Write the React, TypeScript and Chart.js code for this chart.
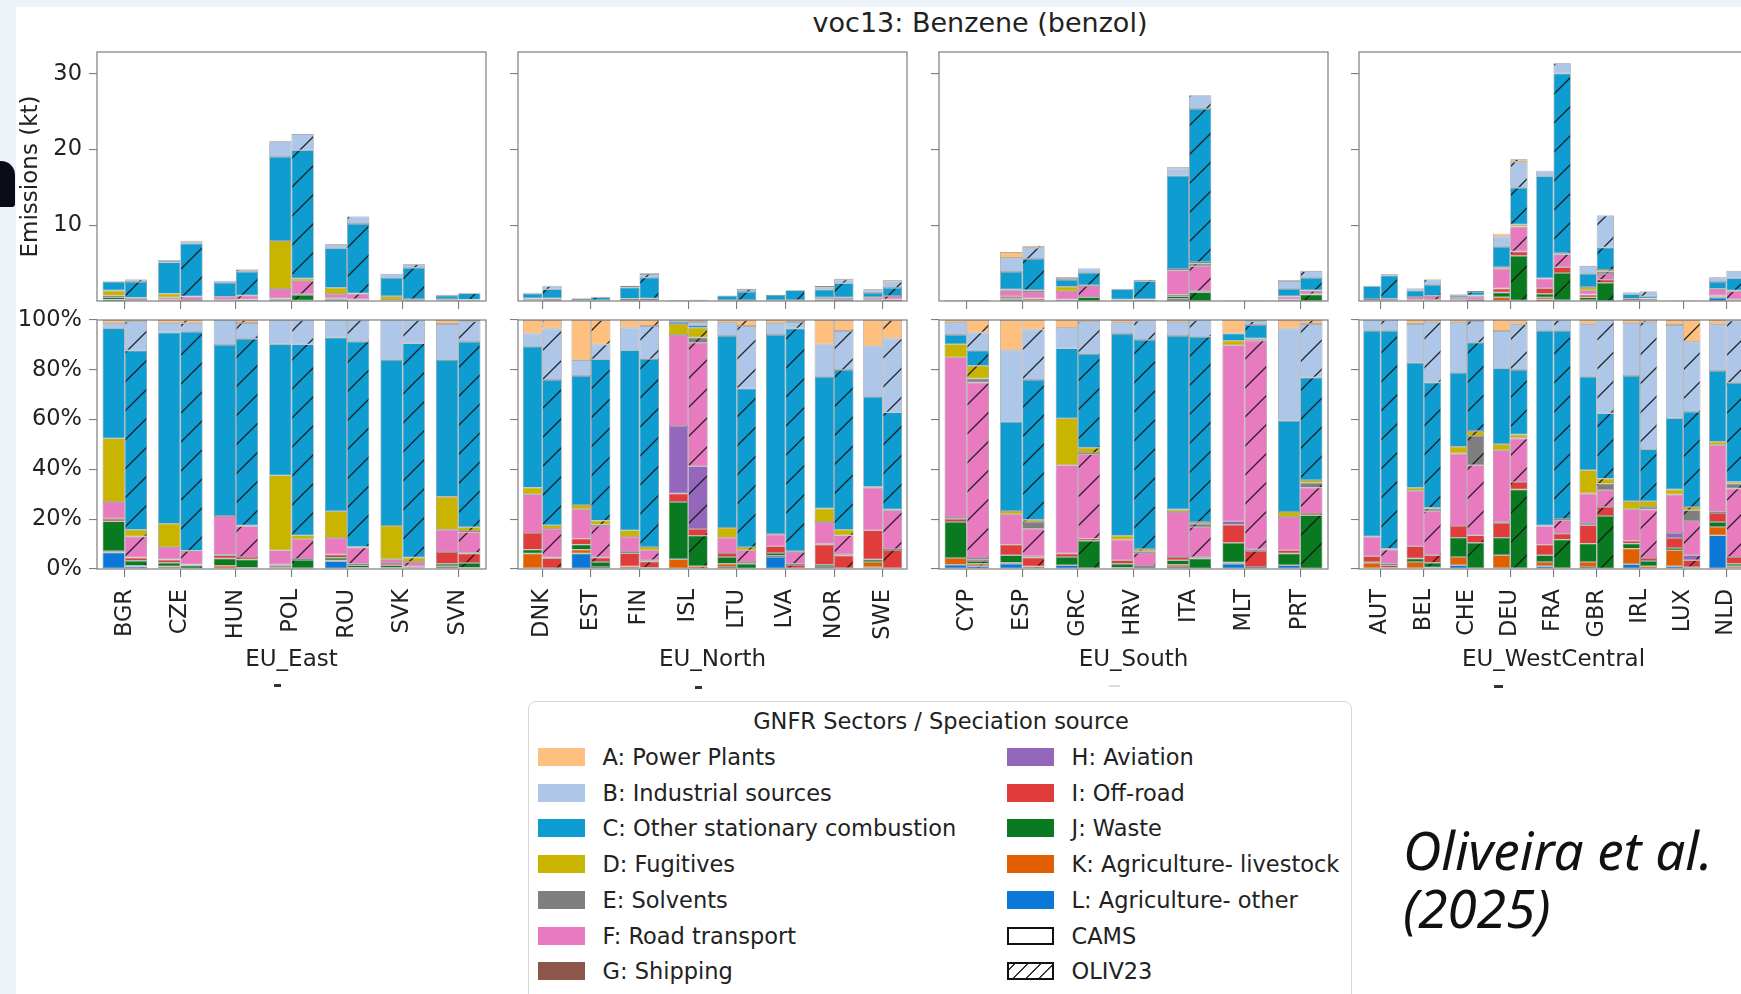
import React, { useEffect, useRef } from 'react';
import { Chart, registerables } from 'chart.js';

Chart.register(...registerables);

// ---------- sectors (order A..L) ----------
const SECTOR_LABELS = [
  'A: Power Plants', 'B: Industrial sources', 'C: Other stationary combustion', 'D: Fugitives',
  'E: Solvents', 'F: Road transport', 'G: Shipping', 'H: Aviation', 'I: Off-road', 'J: Waste',
  'K: Agriculture- livestock', 'L: Agriculture- other',
];
const SECTOR_COLORS = [
  '#ffbf7f', '#aec7e8', '#0f9dd1', '#c9b400', '#7f7f7f', '#e87bbf',
  '#8c564b', '#9467bd', '#e03c3c', '#0a7a21', '#e06000', '#0b78d8',
];

// ---------- shares (%) per country, order A..L ----------
// EU_East
const BGR_CAMS = [1.3, 2, 44.2, 25.5, 0, 6.5, 0, 0.3, 1, 12, 0.5, 6.6];
const BGR_OLIV = [0.7, 11.6, 72.4, 2.7, 0, 8.4, 0.2, 0, 1.2, 2, 0.3, 1];
const CZE_CAMS = [1.3, 3.7, 76.8, 9.4, 0, 4.9, 0.2, 0, 1.2, 1.5, 0.7, 0.3];
const CZE_OLIV = [1.3, 3.4, 88, 0.2, 0, 5.4, 0.1, 0, 0.3, 1.2, 0.2, 0];
const HUN_CAMS = [0, 10, 68.7, 0, 0, 15.6, 0.2, 0, 1.3, 2.9, 1.3, 0];
const HUN_OLIV = [1.2, 6.3, 75, 0.3, 0, 12.4, 0, 0, 1, 3.3, 0.2, 0.3];
const POL_CAMS = [0, 9.8, 52.8, 30.2, 0, 5.7, 0.3, 0, 0.7, 0.3, 0.5, 0];
const POL_OLIV = [0, 9.8, 76.7, 1.6, 0, 7.9, 0, 0, 0.4, 3.3, 0.2, 0.1];
const ROU_CAMS = [0, 7, 69.8, 10.7, 0, 6.7, 0, 0, 1.3, 1.1, 0.3, 3.1];
const ROU_OLIV = [0, 8.7, 82.4, 0.3, 0, 6.5, 0, 0, 0.6, 1, 0.2, 0.3];
const SVK_CAMS = [0, 16.1, 66.6, 13.4, 0, 1.5, 0, 0, 0.9, 1, 0.3, 0.2];
const SVK_OLIV = [0, 9.4, 86, 1.8, 0, 1.8, 0, 0, 0.3, 0.5, 0.2, 0];
const SVN_CAMS = [1.6, 14.5, 54.9, 13.2, 0, 9, 0, 0, 4.7, 1, 0.3, 0.8];
const SVN_OLIV = [0.5, 8.3, 74.4, 1.5, 0.5, 8.3, 0, 0.3, 3.8, 1.9, 0.2, 0.3];
// EU_North
const DNK_CAMS = [5.4, 5.3, 56.6, 2.7, 0, 15.5, 0, 0, 6.7, 1.6, 5.9, 0.3];
const DNK_OLIV = [3.4, 20.7, 58.3, 1.5, 0, 11.5, 0.3, 0, 4, 0, 0.3, 0];
const EST_CAMS = [16.1, 6.4, 51.8, 1.7, 0, 11.8, 0, 0, 2.4, 2, 1.6, 6.2];
const EST_OLIV = [9.8, 5.9, 64.7, 1.6, 0.6, 12.6, 0, 0, 1.8, 2, 0.5, 0.3];
const FIN_CAMS = [3, 9.1, 72.4, 2.6, 0, 6.1, 0.5, 0, 5.3, 0, 1, 0];
const FIN_OLIV = [2.4, 13.3, 75.5, 1.3, 0, 4, 0.5, 0, 2.5, 0, 0.5, 0];
const ISL_CAMS = [0.3, 0.4, 0.9, 4.4, 0, 36.6, 0, 27.1, 3.4, 23, 3.9, 0];
const ISL_OLIV = [0.8, 1.3, 1, 3.9, 2.1, 49.6, 0, 25.2, 2.7, 12.3, 1.1, 0];
const LTU_CAMS = [1.1, 5.3, 77.1, 3.9, 0, 6.2, 0, 0, 1.6, 2.7, 1.3, 0.8];
const LTU_OLIV = [2.4, 25.1, 63.7, 1.3, 0, 4.7, 0, 0, 0.7, 2.1, 0, 0];
const LVA_CAMS = [1.3, 4.7, 79.9, 0.3, 0, 4.7, 0, 0, 2.7, 1.1, 0.5, 4.8];
const LVA_OLIV = [0.8, 2.6, 89.5, 0.3, 0, 4.7, 0.5, 0, 1.3, 0, 0.3, 0];
const NOR_CAMS = [9.8, 13, 52.9, 5.4, 0, 8.8, 0, 0.3, 8.1, 0.9, 0.8, 0];
const NOR_OLIV = [4.4, 15.7, 64.1, 2.3, 0, 7.6, 0.5, 0, 5.1, 0, 0.3, 0];
const SWE_CAMS = [10.5, 20.3, 36.2, 0.3, 0, 17.2, 0, 0, 11.7, 1, 2.1, 0.7];
const SWE_OLIV = [7.4, 29.7, 39, 0.3, 0, 15.6, 0.4, 0, 7.3, 0, 0.3, 0];
// EU_South
const CYP_CAMS = [1.1, 4.9, 3.7, 5.3, 0, 64.1, 0, 0.7, 1.3, 14.5, 2.7, 1.7];
const CYP_OLIV = [5, 7.3, 6.1, 5.1, 1.6, 70.5, 0, 0.5, 0.7, 1.1, 1, 1.1];
const ESP_CAMS = [12.1, 28.8, 35.8, 1.3, 0, 12.2, 0, 0, 4.3, 3, 0.4, 2.1];
const ESP_OLIV = [3.8, 20.3, 56.1, 0.9, 2.7, 11.1, 0.5, 0, 3.6, 0, 0.7, 0.3];
const GRC_CAMS = [3.1, 8.3, 28.1, 18.8, 0, 35.5, 0, 0, 1.4, 3.3, 0, 1.5];
const GRC_OLIV = [0.7, 13, 37.6, 2.1, 0.5, 33.9, 0, 0, 0.9, 11, 0.3, 0];
const HRV_CAMS = [1.1, 4.5, 81, 1.6, 0, 8.3, 0, 0, 1.4, 1.6, 0.5, 0];
const HRV_OLIV = [0.3, 7.7, 83.8, 0.9, 0.7, 5.2, 0, 0, 0.4, 0.6, 0.2, 0];
const ITA_CAMS = [0.9, 5.5, 69.7, 1, 0, 18.1, 0, 0, 1.3, 1.8, 0.9, 0.8];
const ITA_OLIV = [0, 6.7, 74.4, 0.7, 1.3, 12.2, 0, 0, 0.5, 4.2, 0, 0];
const MLT_CAMS = [5.4, 0, 2.9, 1.8, 0, 70.7, 0, 1.4, 7.3, 7.9, 0.5, 2.1];
const MLT_OLIV = [0.5, 1.5, 5.4, 0.5, 0.4, 83.8, 0, 0.7, 6.4, 0.8, 0, 0];
const PRT_CAMS = [3.4, 37.1, 36.6, 2, 0, 13.4, 0, 0, 1.3, 4.7, 0, 1.5];
const PRT_OLIV = [1.6, 21.5, 41.2, 1.1, 1.9, 10.2, 0, 0, 0.9, 21.6, 0, 0];
// EU_WestCentral
const AUT_CAMS = [0, 4.3, 82.6, 0.2, 0, 7.8, 0, 0, 2.3, 0.3, 2.2, 0.3];
const AUT_OLIV = [0, 4.3, 87.6, 0.3, 0, 5.7, 0.6, 0, 1, 0, 0.5, 0];
const BEL_CAMS = [1.6, 15.6, 50.2, 1.2, 0, 22.3, 0, 0, 4.9, 1.4, 2.5, 0.3];
const BEL_OLIV = [0.9, 24.2, 50.3, 0.3, 1.1, 17.7, 0, 0, 3, 1.9, 0.3, 0.3];
const CHE_CAMS = [1.1, 20.1, 29.7, 2.7, 0, 29.1, 0, 0, 4.7, 7.8, 3.3, 1.5];
const CHE_OLIV = [0.4, 8.7, 35.5, 2, 11.7, 28.2, 0, 0, 3, 10.2, 0.3, 0];
const DEU_CAMS = [4.4, 15, 30.5, 2.4, 0, 28.9, 0, 0.3, 5.9, 7.1, 5.2, 0.3];
const DEU_OLIV = [1.7, 18.4, 25.9, 1.3, 0.3, 17.5, 0, 0, 3, 31.6, 0.3, 0];
const FRA_CAMS = [0, 4.3, 78.2, 0.3, 0, 7.4, 0, 0, 4.3, 2.7, 1.7, 1.1];
const FRA_OLIV = [0, 4.3, 75.6, 0.5, 0, 5.4, 0, 0, 2.4, 11.5, 0.3, 0];
const GBR_CAMS = [1.7, 21.1, 37.5, 9.4, 0, 11.8, 0, 0.9, 7.4, 7.4, 2, 0.8];
const GBR_OLIV = [0.3, 37.2, 26.2, 2, 2.7, 6.7, 0, 0, 3.6, 21.3, 0, 0];
const IRL_CAMS = [1.3, 21.2, 50.3, 3.2, 0, 12.7, 0, 0, 1.1, 2, 6.3, 1.9];
const IRL_OLIV = [0.9, 51, 20.9, 2.3, 1, 19.5, 0, 0, 1.2, 2.1, 1.1, 0];
const LUX_CAMS = [2, 37.5, 28.6, 2, 0, 15.4, 0, 2, 4.1, 0.9, 6.4, 1.1];
const LUX_OLIV = [8.7, 28.2, 38.2, 1.3, 4.3, 13.8, 0, 2, 2.7, 0.3, 0.5, 0];
const NLD_CAMS = [1.7, 18.8, 28.4, 1.4, 0, 26.7, 0, 0.5, 3.6, 2, 3.4, 13.5];
const NLD_OLIV = [0.2, 25, 39.8, 0.7, 2, 27.5, 0, 0, 2.7, 1, 0.8, 0.3];

// ---------- countries and totals (kt) ----------
const EAST_COUNTRIES = ['BGR', 'CZE', 'HUN', 'POL', 'ROU', 'SVK', 'SVN'];
const EAST_CAMS_TOTAL = [2.64, 5.37, 2.69, 21.1, 7.49, 3.61, 0.84];
const EAST_OLIV_TOTAL = [2.86, 7.97, 4.18, 22.07, 11.15, 4.85, 1.1];
const NORTH_COUNTRIES = ['DNK', 'EST', 'FIN', 'ISL', 'LTU', 'LVA', 'NOR', 'SWE'];
const NORTH_CAMS_TOTAL = [1.1, 0.4, 2.03, 0.13, 0.75, 0.84, 1.98, 1.54];
const NORTH_OLIV_TOTAL = [2.03, 0.57, 3.66, 0.15, 1.63, 1.45, 2.95, 2.73];
const SOUTH_COUNTRIES = ['CYP', 'ESP', 'GRC', 'HRV', 'ITA', 'MLT', 'PRT'];
const SOUTH_CAMS_TOTAL = [0.13, 6.48, 3.13, 1.63, 17.67, 0.05, 2.73];
const SOUTH_OLIV_TOTAL = [0.13, 7.31, 4.32, 2.82, 27.2, 0.05, 4.0];
const WC_COUNTRIES = ['AUT', 'BEL', 'CHE', 'DEU', 'FRA', 'GBR', 'IRL', 'LUX', 'NLD'];
const WC_CAMS_TOTAL = [2.03, 1.67, 0.88, 8.9, 17.22, 4.67, 1.15, 0.07, 3.17];
const WC_OLIV_TOTAL = [3.52, 2.86, 1.32, 18.72, 31.4, 11.32, 1.28, 0.07, 4.0];

const ABS_TICKS = [10, 20, 30];
const ABS_MAX = 32.9;

const REGIONS = [
  { name: 'EU_East', countries: EAST_COUNTRIES, camsTotal: EAST_CAMS_TOTAL, olivTotal: EAST_OLIV_TOTAL,
    cams: [BGR_CAMS, CZE_CAMS, HUN_CAMS, POL_CAMS, ROU_CAMS, SVK_CAMS, SVN_CAMS],
    oliv: [BGR_OLIV, CZE_OLIV, HUN_OLIV, POL_OLIV, ROU_OLIV, SVK_OLIV, SVN_OLIV] },
  { name: 'EU_North', countries: NORTH_COUNTRIES, camsTotal: NORTH_CAMS_TOTAL, olivTotal: NORTH_OLIV_TOTAL,
    cams: [DNK_CAMS, EST_CAMS, FIN_CAMS, ISL_CAMS, LTU_CAMS, LVA_CAMS, NOR_CAMS, SWE_CAMS],
    oliv: [DNK_OLIV, EST_OLIV, FIN_OLIV, ISL_OLIV, LTU_OLIV, LVA_OLIV, NOR_OLIV, SWE_OLIV] },
  { name: 'EU_South', countries: SOUTH_COUNTRIES, camsTotal: SOUTH_CAMS_TOTAL, olivTotal: SOUTH_OLIV_TOTAL,
    cams: [CYP_CAMS, ESP_CAMS, GRC_CAMS, HRV_CAMS, ITA_CAMS, MLT_CAMS, PRT_CAMS],
    oliv: [CYP_OLIV, ESP_OLIV, GRC_OLIV, HRV_OLIV, ITA_OLIV, MLT_OLIV, PRT_OLIV] },
  { name: 'EU_WestCentral', countries: WC_COUNTRIES, camsTotal: WC_CAMS_TOTAL, olivTotal: WC_OLIV_TOTAL,
    cams: [AUT_CAMS, BEL_CAMS, CHE_CAMS, DEU_CAMS, FRA_CAMS, GBR_CAMS, IRL_CAMS, LUX_CAMS, NLD_CAMS],
    oliv: [AUT_OLIV, BEL_OLIV, CHE_OLIV, DEU_OLIV, FRA_OLIV, GBR_OLIV, IRL_OLIV, LUX_OLIV, NLD_OLIV] },
];

// ---------- layout ----------
const FONT = "'DejaVu Sans', sans-serif";
const TEXT = '#222222';
const SPINE = '#7d7d7d';
const PANEL_LEFTS = [97, 518, 939, 1359];
const PLOT_W = 389;
const PLOT_H = 249;
const ABS_TOP = 52;
const PCT_TOP = 320;
const TICK_FONT = 22.5;

Chart.defaults.font.family = FONT;
Chart.defaults.color = TEXT;

function makeHatch(ctx: CanvasRenderingContext2D, color: string) {
  const S = 29;
  const c = document.createElement('canvas');
  c.width = S;
  c.height = S;
  const g = c.getContext('2d')!;
  g.fillStyle = color;
  g.fillRect(0, 0, S, S);
  g.strokeStyle = 'rgba(20,20,20,0.9)';
  g.lineWidth = 1.3;
  g.beginPath();
  for (const o of [-S, 0, S]) {
    g.moveTo(o - 1, S + 1);
    g.lineTo(o + S + 1, -1);
  }
  g.stroke();
  return ctx.createPattern(c, 'repeat')!;
}

const framePlugin = {
  id: 'frame',
  afterDraw(chart: any) {
    const { ctx, chartArea: a } = chart;
    ctx.save();
    ctx.strokeStyle = SPINE;
    ctx.lineWidth = 1.2;
    ctx.strokeRect(a.left, a.top, a.right - a.left, a.bottom - a.top);
    ctx.restore();
  },
};

type Row = 'abs' | 'pct';

function Panel({ idx, row }: { idx: number; row: Row }) {
  const ref = useRef<HTMLCanvasElement>(null);
  const region = REGIONS[idx];
  const first = idx === 0;
  const yAxisW = first ? 93 : 12;
  const padTop = row === 'abs' ? 12 : 20;
  const xAxisH = row === 'abs' ? 14 : 121;
  const padRight = 6;
  const canvasLeft = PANEL_LEFTS[idx] - yAxisW;
  const canvasTop = (row === 'abs' ? ABS_TOP : PCT_TOP) - padTop;
  const w = yAxisW + PLOT_W + padRight;
  const h = padTop + PLOT_H + xAxisH;

  useEffect(() => {
    const canvas = ref.current!;
    const ctx = canvas.getContext('2d')!;
    const datasets: any[] = [];
    const sources: [string, number[][], number[]][] = [
      ['CAMS', region.cams, region.camsTotal],
      ['OLIV23', region.oliv, region.olivTotal],
    ];
    for (const [src, shares, totals] of sources) {
      for (let k = 11; k >= 0; k--) {
        const data = shares.map((arr, ci) => {
          if (!arr[k]) return null;
          const sum = arr.reduce((a, b) => a + b, 0);
          const frac = arr[k] / sum;
          return row === 'abs' ? frac * totals[ci] : frac * 100;
        });
        datasets.push({
          label: `${SECTOR_LABELS[k]} (${src})`,
          stack: src,
          data,
          backgroundColor: src === 'CAMS' ? SECTOR_COLORS[k] : makeHatch(ctx, SECTOR_COLORS[k]),
          borderColor: 'rgba(45,45,45,0.55)',
          borderWidth: 0.7,
          borderSkipped: false,
          categoryPercentage: 0.8,
          barPercentage: 1.0,
        });
      }
    }

    const chart = new Chart(canvas, {
      type: 'bar',
      data: { labels: region.countries, datasets },
      plugins: [framePlugin],
      options: {
        responsive: false,
        animation: false,
        devicePixelRatio: 1,
        events: [],
        layout: { padding: { top: padTop, right: padRight, left: 0, bottom: 0 } },
        plugins: { legend: { display: false }, tooltip: { enabled: false }, title: { display: false } },
        scales: {
          x: {
            stacked: true,
            offset: true,
            border: { display: false },
            grid: { display: true, offset: false, drawOnChartArea: false, drawTicks: true, tickLength: 8, color: SPINE, lineWidth: 1.1 },
            ticks: {
              display: row === 'pct',
              autoSkip: false,
              minRotation: 90,
              maxRotation: 90,
              padding: 12,
              color: TEXT,
              font: { size: TICK_FONT, family: FONT },
            },
            title: {
              display: row === 'pct',
              text: region.name,
              color: TEXT,
              font: { size: 23, family: FONT },
              padding: { top: 0, bottom: 16 },
            },
            afterFit: (s: any) => {
              s.height = xAxisH;
              s.paddingLeft = 0;
              s.paddingRight = 0;
            },
          },
          y: {
            stacked: true,
            min: 0,
            max: row === 'abs' ? ABS_MAX : 100,
            border: { display: false },
            grid: { display: true, drawOnChartArea: false, drawTicks: true, tickLength: 8, color: SPINE, lineWidth: 1.1 },
            ticks: {
              display: first,
              stepSize: 20,
              padding: 7,
              color: TEXT,
              font: { size: TICK_FONT, family: FONT },
              callback: (v: any) => (row === 'pct' ? `${v}%` : `${v}`),
            },
            afterBuildTicks: (s: any) => {
              if (row === 'abs') s.ticks = ABS_TICKS.map((v) => ({ value: v }));
            },
            title: {
              display: first && row === 'abs',
              text: 'Emissions (kt)',
              color: TEXT,
              font: { size: 23, family: FONT },
              padding: { top: 13, bottom: 0 },
            },
            afterFit: (s: any) => {
              s.width = yAxisW;
              s.paddingTop = 0;
              s.paddingBottom = 0;
            },
          },
        },
      } as any,
    });
    return () => chart.destroy();
  }, []);

  return (
    <canvas
      ref={ref}
      width={w}
      height={h}
      style={{ position: 'absolute', left: canvasLeft, top: canvasTop, width: w, height: h }}
    />
  );
}

const LEGEND_LEFT = 528;
const LEGEND_TOP = 701;
const ROW_Y0 = 55;
const ROW_DY = 35.7;

function Swatch({ color, kind }: { color?: string; kind?: 'cams' | 'oliv' }) {
  const base: React.CSSProperties = { position: 'absolute', width: 47, height: 18, boxSizing: 'border-box' };
  if (kind === 'cams') return <div style={{ ...base, background: '#fff', border: '2px solid #111' }} />;
  if (kind === 'oliv')
    return (
      <div
        style={{
          ...base,
          border: '2px solid #111',
          background: 'repeating-linear-gradient(-45deg, #fff 0px, #fff 8px, #333 8px, #333 9.3px)',
        }}
      />
    );
  return <div style={{ ...base, background: color }} />;
}

function LegendItem({ x, row, label, color, kind }: { x: number; row: number; label: string; color?: string; kind?: 'cams' | 'oliv' }) {
  const cy = ROW_Y0 + row * ROW_DY;
  return (
    <>
      <div style={{ position: 'absolute', left: x, top: cy - 9 }}>
        <Swatch color={color} kind={kind} />
      </div>
      <div
        style={{
          position: 'absolute',
          left: x + 64.5,
          top: cy,
          transform: 'translateY(-50%)',
          whiteSpace: 'nowrap',
          fontSize: 22.5,
          color: TEXT,
          lineHeight: 1,
        }}
      >
        {label}
      </div>
    </>
  );
}

export default function App() {
  useEffect(() => {
    document.body.style.margin = '0';
  }, []);

  return (
    <div
      style={{
        position: 'fixed',
        left: 0,
        top: 0,
        width: 1741,
        height: 994,
        overflow: 'hidden',
        background: '#eef2f9',
        fontFamily: FONT,
      }}
    >
      <div style={{ position: 'absolute', left: 16, top: 7, right: 0, bottom: 0, background: '#ffffff' }} />
      <div
        style={{
          position: 'absolute',
          left: 0,
          top: 161,
          width: 15,
          height: 46,
          background: '#0b0b16',
          borderTopRightRadius: 14,
          borderBottomRightRadius: 3,
        }}
      />
      <div
        style={{
          position: 'absolute',
          left: 980,
          top: 22,
          transform: 'translate(-50%, -50%)',
          whiteSpace: 'nowrap',
          fontSize: 27,
          color: TEXT,
          lineHeight: 1,
        }}
      >
        voc13: Benzene (benzol)
      </div>

      {REGIONS.map((_, i) => (
        <React.Fragment key={i}>
          <Panel idx={i} row="abs" />
          <Panel idx={i} row="pct" />
        </React.Fragment>
      ))}

      {/* small stray marks under the region labels */}
      <div style={{ position: 'absolute', left: 274, top: 684, width: 7, height: 3, background: '#333' }} />
      <div style={{ position: 'absolute', left: 695, top: 686, width: 7, height: 3, background: '#333' }} />
      <div style={{ position: 'absolute', left: 1109, top: 685, width: 11, height: 2, background: '#ddd' }} />
      <div style={{ position: 'absolute', left: 1494, top: 685, width: 9, height: 3, background: '#333' }} />

      {/* legend */}
      <div
        style={{
          position: 'absolute',
          left: LEGEND_LEFT,
          top: LEGEND_TOP,
          width: 824,
          height: 330,
          boxSizing: 'border-box',
          border: '1.5px solid #d6d6d6',
          borderRadius: 8,
          background: '#fff',
        }}
      >
        <div
          style={{
            position: 'absolute',
            left: 412,
            top: 18.5,
            transform: 'translate(-50%, -50%)',
            whiteSpace: 'nowrap',
            fontSize: 22.5,
            color: TEXT,
            lineHeight: 1,
          }}
        >
          GNFR Sectors / Speciation source
        </div>
        {SECTOR_LABELS.slice(0, 7).map((l, i) => (
          <LegendItem key={l} x={9} row={i} label={l} color={SECTOR_COLORS[i]} />
        ))}
        {SECTOR_LABELS.slice(7).map((l, i) => (
          <LegendItem key={l} x={478} row={i} label={l} color={SECTOR_COLORS[i + 7]} />
        ))}
        <LegendItem x={478} row={5} label="CAMS" kind="cams" />
        <LegendItem x={478} row={6} label="OLIV23" kind="oliv" />
      </div>

      <div
        style={{
          position: 'absolute',
          left: 1403,
          top: 821,
          fontFamily: "'Noto Sans', 'Open Sans', sans-serif",
          fontStyle: 'italic',
          fontSize: 53,
          lineHeight: '58px',
          color: '#111',
          whiteSpace: 'nowrap',
        }}
      >
        Oliveira et al.
        <br />
        (2025)
      </div>
    </div>
  );
}
